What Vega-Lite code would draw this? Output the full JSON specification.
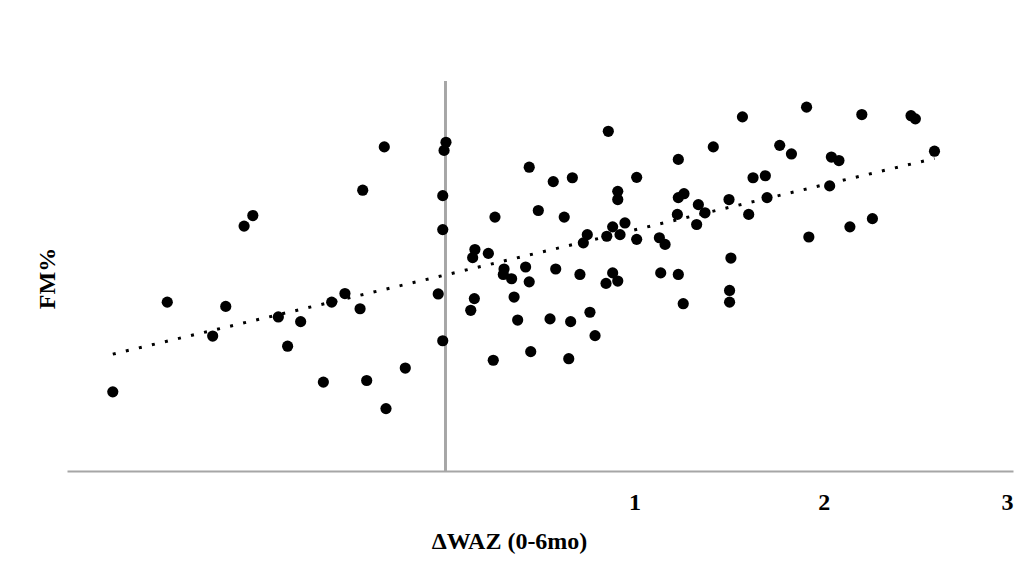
{
  "$schema": "https://vega.github.io/schema/vega-lite/v6.json",
  "width": 946,
  "height": 390,
  "autosize": {"type": "none"},
  "padding": {"left": 67, "top": 81, "right": 22, "bottom": 107},
  "background": "white",
  "config": {"view": {"stroke": null}},
  "data": {
    "values": [
      {"WAZ": -1.758, "FM": 20.3}, {"WAZ": -1.470, "FM": 43.3}, {"WAZ": -1.161, "FM": 42.2}, {"WAZ": -1.230, "FM": 34.6},
      {"WAZ": -1.064, "FM": 62.8}, {"WAZ": -1.018, "FM": 65.5}, {"WAZ": -0.883, "FM": 39.5}, {"WAZ": -0.765, "FM": 38.3},
      {"WAZ": -0.834, "FM": 32.0}, {"WAZ": -0.645, "FM": 22.8}, {"WAZ": -0.601, "FM": 43.3}, {"WAZ": -0.531, "FM": 45.5},
      {"WAZ": -0.451, "FM": 41.6}, {"WAZ": -0.437, "FM": 72.0}, {"WAZ": -0.416, "FM": 23.2}, {"WAZ": -0.323, "FM": 83.1},
      {"WAZ": -0.314, "FM": 16.0}, {"WAZ": -0.212, "FM": 26.4}, {"WAZ": 0.003, "FM": 84.3}, {"WAZ": -0.007, "FM": 82.2},
      {"WAZ": -0.014, "FM": 70.6}, {"WAZ": -0.014, "FM": 61.9}, {"WAZ": -0.038, "FM": 45.4}, {"WAZ": -0.014, "FM": 33.4},
      {"WAZ": 0.443, "FM": 77.9}, {"WAZ": 0.861, "FM": 87.1}, {"WAZ": 1.416, "FM": 83.1}, {"WAZ": 1.231, "FM": 79.9},
      {"WAZ": 0.570, "FM": 74.2}, {"WAZ": 0.671, "FM": 75.2}, {"WAZ": 1.011, "FM": 75.3}, {"WAZ": 0.911, "FM": 71.7},
      {"WAZ": 0.911, "FM": 69.6}, {"WAZ": 0.262, "FM": 65.1}, {"WAZ": 0.491, "FM": 66.8}, {"WAZ": 0.628, "FM": 65.1},
      {"WAZ": 1.231, "FM": 70.1}, {"WAZ": 1.261, "FM": 71.1}, {"WAZ": 1.226, "FM": 65.8}, {"WAZ": 1.337, "FM": 68.3},
      {"WAZ": 1.372, "FM": 66.2}, {"WAZ": 1.328, "FM": 63.2}, {"WAZ": 1.499, "FM": 69.6}, {"WAZ": 0.884, "FM": 62.6},
      {"WAZ": 0.949, "FM": 63.6}, {"WAZ": 0.853, "FM": 60.2}, {"WAZ": 0.923, "FM": 60.6}, {"WAZ": 1.011, "FM": 59.4},
      {"WAZ": 1.131, "FM": 59.8}, {"WAZ": 1.161, "FM": 58.1}, {"WAZ": 0.750, "FM": 60.6}, {"WAZ": 0.729, "FM": 58.5},
      {"WAZ": 0.156, "FM": 56.8}, {"WAZ": 0.144, "FM": 54.7}, {"WAZ": 0.227, "FM": 55.8}, {"WAZ": 0.310, "FM": 51.8},
      {"WAZ": 0.306, "FM": 50.4}, {"WAZ": 0.350, "FM": 49.3}, {"WAZ": 0.424, "FM": 52.3}, {"WAZ": 0.443, "FM": 48.5},
      {"WAZ": 0.583, "FM": 51.8}, {"WAZ": 0.711, "FM": 50.4}, {"WAZ": 0.884, "FM": 50.8}, {"WAZ": 0.849, "FM": 48.1},
      {"WAZ": 0.911, "FM": 48.7}, {"WAZ": 1.138, "FM": 50.8}, {"WAZ": 1.231, "FM": 50.4}, {"WAZ": 1.509, "FM": 54.6},
      {"WAZ": 1.502, "FM": 46.3}, {"WAZ": 1.502, "FM": 43.3}, {"WAZ": 1.257, "FM": 42.9}, {"WAZ": 0.153, "FM": 44.2},
      {"WAZ": 0.134, "FM": 41.2}, {"WAZ": 0.363, "FM": 44.6}, {"WAZ": 0.382, "FM": 38.7}, {"WAZ": 0.553, "FM": 39.0},
      {"WAZ": 0.662, "FM": 38.3}, {"WAZ": 0.764, "FM": 40.7}, {"WAZ": 0.791, "FM": 34.7}, {"WAZ": 0.451, "FM": 30.6},
      {"WAZ": 0.253, "FM": 28.4}, {"WAZ": 0.652, "FM": 28.8},
      {"WAZ": 1.570, "FM": 90.8}, {"WAZ": 1.909, "FM": 93.3}, {"WAZ": 2.201, "FM": 91.4}, {"WAZ": 2.461, "FM": 91.1},
      {"WAZ": 2.484, "FM": 90.3}, {"WAZ": 1.767, "FM": 83.5}, {"WAZ": 1.829, "FM": 81.3}, {"WAZ": 2.040, "FM": 80.5},
      {"WAZ": 2.080, "FM": 79.6}, {"WAZ": 2.585, "FM": 82.0}, {"WAZ": 1.626, "FM": 75.2}, {"WAZ": 1.691, "FM": 75.7},
      {"WAZ": 2.031, "FM": 73.1}, {"WAZ": 1.700, "FM": 70.1}, {"WAZ": 1.603, "FM": 65.8}, {"WAZ": 1.921, "FM": 60.0},
      {"WAZ": 2.138, "FM": 62.6}, {"WAZ": 2.257, "FM": 64.7}
    ]
  },
  "encoding": {
    "x": {
      "field": "WAZ",
      "type": "quantitative",
      "scale": {"domain": [-2, 3], "nice": false, "zero": false},
      "axis": {
        "title": "ΔWAZ (0-6mo)",
        "values": [1, 2, 3],
        "ticks": false,
        "tickSize": 0,
        "grid": false,
        "domainColor": "#a6a6a6",
        "domainWidth": 2,
        "labelFont": "Liberation Serif",
        "labelFontSize": 24,
        "labelFontWeight": "bold",
        "labelColor": "black",
        "labelBaseline": "middle",
        "labelPadding": 31,
        "titleFont": "Liberation Serif",
        "titleFontSize": 24,
        "titleFontWeight": "bold",
        "titleColor": "black",
        "titleX": 442,
        "titleY": 70,
        "titleBaseline": "middle",
        "titleAlign": "center"
      }
    },
    "y": {
      "field": "FM",
      "type": "quantitative",
      "scale": {"domain": [0, 100], "nice": false, "zero": false},
      "axis": {
        "title": "FM%",
        "labels": false,
        "ticks": false,
        "domain": false,
        "grid": false,
        "titleFont": "Liberation Serif",
        "titleFontSize": 24,
        "titleFontWeight": "bold",
        "titleColor": "black",
        "titleX": -20,
        "titleY": 197,
        "titleBaseline": "middle",
        "titleAlign": "center"
      }
    }
  },
  "layer": [
    {
      "mark": {"type": "rule", "color": "#a6a6a6", "strokeWidth": 1.5},
      "encoding": {"x": {"datum": 0, "type": "quantitative"}, "y": null}
    },
    {
      "mark": {"type": "circle", "size": 125, "color": "black", "opacity": 1}
    },
    {
      "transform": [{"regression": "FM", "on": "WAZ", "extent": [-1.758, 2.585]}],
      "mark": {"type": "line", "color": "black", "strokeWidth": 3, "strokeDash": [3, 10.4]}
    }
  ]
}
